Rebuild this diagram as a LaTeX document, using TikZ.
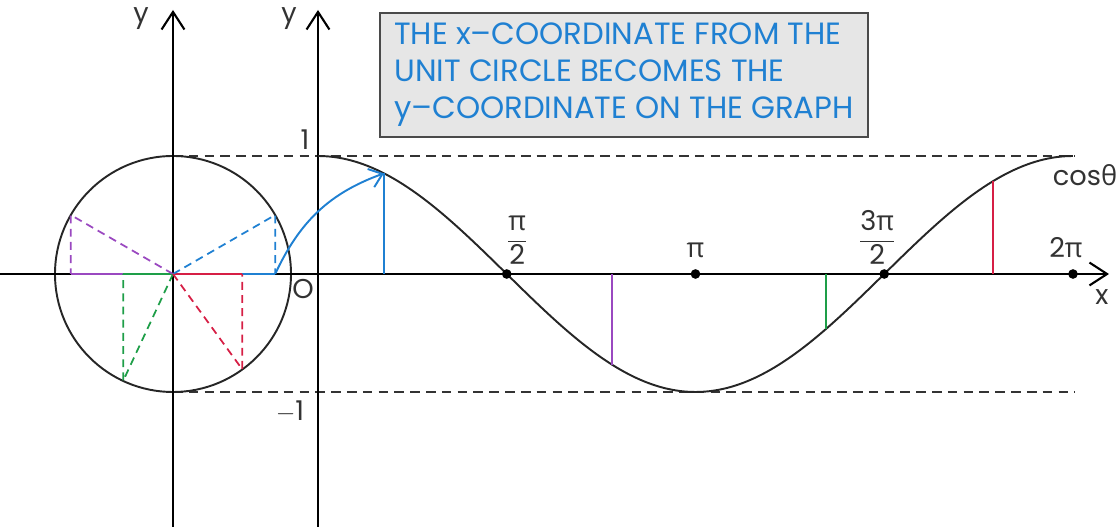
\documentclass[tikz,border=0pt]{standalone}
\usepackage{amsmath}
\usepackage{fontspec}
\setmainfont{Poppins}
\newfontfamily\greekfont{Open Sans}
\usetikzlibrary{arrows.meta,positioning,calc}
\definecolor{noteblue}{HTML}{1F80D2}
\definecolor{boxgray}{HTML}{E6E6E6}
\definecolor{boxedge}{HTML}{4A4A4A}
\definecolor{circpurple}{HTML}{9A48C0}
\definecolor{circgreen}{HTML}{1E9E48}
\definecolor{circred}{HTML}{D61F45}

\begin{document}
\begin{tikzpicture}[x=0.02cm, y=0.02cm,
  axis/.style={line width=1.2pt, -{Straight Barb[length=10pt, width=13pt]}},
  guide/.style={line width=1pt, dash pattern=on 5.5pt off 3.5pt, black!80},
  radial/.style={line width=1pt, dash pattern=on 4.5pt off 3pt},
  proj/.style={line width=1.1pt},
  curveline/.style={line width=1.1pt, black!85},
  dotmark/.style={circle, fill=black, inner sep=0pt, minimum size=5.5pt},
  lbl/.style={font=\fontsize{15.5}{17}\selectfont, text=black!80, inner sep=1pt},
  notebox/.style={draw=boxedge, fill=boxgray, line width=1pt, text=noteblue, align=left,
    minimum width=9.76cm, minimum height=2.48cm, font=\fontsize{17.5}{21}\selectfont},
  link/.style={line width=1.1pt, noteblue, -{Straight Barb[length=7pt, width=11pt]}},
]
  \useasboundingbox (0,0) rectangle (1117,527);

  \coordinate (C) at (173,253);
  \coordinate (O) at (318,253);
  \coordinate (xl) at (0,253);
  \coordinate (xr) at (1109,253);
  \coordinate (ly0) at (173,0);
  \coordinate (ly1) at (173,517);
  \coordinate (ry0) at (318,0);
  \coordinate (ry1) at (318,517);
  \coordinate (top0) at (173,371);
  \coordinate (top1) at (1075,371);
  \coordinate (bot0) at (173,135);
  \coordinate (bot1) at (1075,135);

  \draw[guide] (top0) -- (top1);
  \draw[guide] (bot0) -- (bot1);

  \draw[line width=1.1pt, black!85] (C) circle[radius=118];

  \draw[axis] (xl) -- (xr);
  \draw[axis] (ly0) -- (ly1);
  \draw[axis] (ry0) -- (ry1);

  \coordinate (pb) at ($(C)+(30:118)$);
  \coordinate (pp) at ($(C)+(150:118)$);
  \coordinate (pg) at ($(C)+(245:118)$);
  \coordinate (pr) at ($(C)+(306:118)$);
  \coordinate (fb) at (C -| pb);
  \coordinate (fp) at (C -| pp);
  \coordinate (fg) at (C -| pg);
  \coordinate (fr) at (C -| pr);

  \draw[proj, noteblue] (C) -- (fb);
  \draw[proj, circpurple] (C) -- (fp);
  \draw[proj, circred] (C) -- (fr);
  \draw[proj, circgreen] (C) -- (fg);
  \draw[radial, noteblue] (C) -- (pb) -- (fb);
  \draw[radial, circpurple] (C) -- (pp) -- (fp);
  \draw[radial, circgreen] (C) -- (pg) -- (fg);
  \draw[radial, circred] (C) -- (pr) -- (fr);

  \begin{scope}[shift={(318,253)}, xscale=120.16, yscale=118]
    \draw[curveline] plot[domain=0:2*pi, samples=120, smooth] (\x, {cos(\x r)});
    \coordinate (gb0) at (0.549,0);
    \coordinate (gb1) at (0.549,{cos(0.549 r)});
    \coordinate (gp0) at (2.447,0);
    \coordinate (gp1) at (2.447,{cos(2.447 r)});
    \coordinate (gg0) at (4.228,0);
    \coordinate (gg1) at (4.228,{cos(4.228 r)});
    \coordinate (gr0) at (5.618,0);
    \coordinate (gr1) at (5.618,{cos(5.618 r)});
    \node[dotmark] (d1) at ({pi/2},0) {};
    \node[dotmark] (d2) at (pi,0) {};
    \node[dotmark] (d3) at ({3*pi/2},0) {};
    \node[dotmark] (d4) at ({2*pi},0) {};
  \end{scope}

  \draw[proj, noteblue] (gb0) -- (gb1);
  \draw[proj, circpurple] (gp0) -- (gp1);
  \draw[proj, circgreen] (gg0) -- (gg1);
  \draw[proj, circred] (gr0) -- (gr1);

  \draw[link] (fb) to[out=65, in=200] (gb1);

  \node[lbl, above=1pt of d1, xshift=6pt] (half) {$\dfrac{\mbox{\greekfont π}}{\mbox{2}}$};
  \node[lbl, above=5pt of d2, xshift=0pt] (pil) {\greekfont π};
  \node[lbl, above=1pt of d3, xshift=-4pt] (threehalf) {$\dfrac{\mbox{3\greekfont π}}{\mbox{2}}$};
  \node[lbl, above=5pt of d4, xshift=-4pt] (twopi) {2\greekfont π};
  \node[lbl] (xlab) at (1102,230) {x};
  \node[lbl] (cosl) at (1085,352) {cos\greekfont θ};
  \node[lbl] (ylab1) at (141,508) {y};
  \node[lbl] (ylab2) at (289,508) {y};
  \node[lbl] (one) at (305,387) {1};
  \node[lbl] (mone) at (290,115) {$-$1};
  \node[lbl] (orig) at (303,238) {O};

  \node[notebox] (note) at (624,452) {THE x–COORDINATE FROM THE\\UNIT CIRCLE BECOMES THE\\y–COORDINATE ON THE GRAPH};
\end{tikzpicture}
\end{document}
